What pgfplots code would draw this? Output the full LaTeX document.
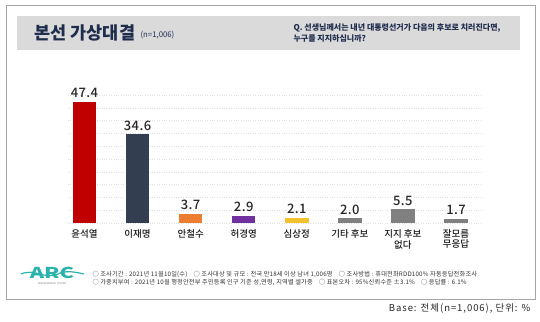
\documentclass[border=0pt]{standalone}
\usepackage{pgfplots}
\pgfplotsset{compat=1.18}
\usepackage{graphicx}
\usepackage{fontspec}
\setmainfont{Noto Sans CJK KR}
\newfontfamily\medfont{Noto Sans CJK KR Medium}
\definecolor{cred}{HTML}{C00000}
\definecolor{cnavy}{HTML}{333F50}
\definecolor{corange}{HTML}{ED7D31}
\definecolor{cpurple}{HTML}{7030A0}
\definecolor{cyellow}{HTML}{F2C12E}
\definecolor{cgray}{HTML}{808080}
\definecolor{titleblue}{HTML}{1F2D4D}
\definecolor{band}{HTML}{DADADA}
\definecolor{logoteal}{HTML}{2AB3AC}
\begin{document}
\begin{tikzpicture}[x=1pt,y=1pt]
\useasboundingbox (0,0) rectangle (540,321);
% frame
\draw[gray!70, line width=0.8pt] (6,321-5) rectangle (535,321-299);
% header band
\fill[band] (17,321-16) rectangle (520,321-50);
\node[anchor=west, text=titleblue, font=\fontsize{17.5}{19}\selectfont\bfseries] at (31,321-33) {본선 가상대결};
\node[anchor=west, text=titleblue, font=\fontsize{7.8}{8}\selectfont] at (137,321-35) {(n=1,006)};
\node[anchor=west, text=titleblue, font=\fontsize{8}{11}\selectfont\bfseries, align=left] at (290,321-33.5) {Q. 선생님께서는 내년 대통령선거가 다음의 후보로 치러진다면,\\누구를 지지하십니까?};
% logo
\node[text=logoteal, font=\fontsize{15}{15}\selectfont\bfseries] at (52,321-273) {\scalebox{1.45}[1]{ARC}};
\draw[logoteal, line width=1.2pt] (21,321-274) .. controls (35,321-268) and (45,321-280) .. (58,321-274) .. controls (66,321-270) and (75,321-272) .. (84,321-274);
\node[text=gray, font=\fontsize{2.5}{3}\selectfont] at (52,321-284) {ARIA RESEARCH CENTER};
% footer text
\node[anchor=west, text=black!80, font=\fontsize{6.2}{6}\selectfont\addfontfeature{LetterSpace=3}] at (89,321-275) {○ 조사기간 : 2021년 11월10일(수)\quad ○ 조사대상 및 규모 : 전국 만18세 이상 남녀 1,006명\quad ○ 조사방법 : 휴대전화RDD100\% 자동응답전화조사};
\node[anchor=west, text=black!80, font=\fontsize{6.2}{6}\selectfont\addfontfeature{LetterSpace=3}] at (89,321-282.5) {○ 가중치부여 : 2021년 10월 행정안전부 주민등록 인구 기준 성,연령, 지역별 셀가중\quad ○ 표본오차 : 95\%신뢰수준 ±3.1\%\quad ○ 응답률 : 6.1\%};
\node[anchor=east, text=black!85, font=\fontsize{9.5}{10}\selectfont\addfontfeature{LetterSpace=10}] at (534,321-309) {Base: 전체(n=1,006), 단위: \%};
\begin{axis}[
  at={(68pt,98pt)}, anchor=south west,
  scale only axis, width=415pt, height=128pt,
  xmin=-0.311, xmax=7.509, ymin=0, ymax=50,
  axis line style={draw=none},
  major tick style={draw=none},
  ytick={0,5,...,50}, yticklabels={},
  ymajorgrids, grid style={dotted, gray!25},
  xtick={0,...,7},
  xticklabels={윤석열,이재명,안철수,허경영,심상정,기타 후보,{지지 후보\\없다},{잘모름\\무응답}},
  xticklabel style={align=center, anchor=north, font=\medfont\fontsize{9.5}{10.3}\selectfont, text=black!90, yshift=1pt},
  ybar, bar width=23.5pt,
  nodes near coords, point meta=explicit symbolic,
  every node near coord/.append style={font=\medfont\fontsize{13}{13}\selectfont\addfontfeature{LetterSpace=3}, text=black!85, yshift=0pt},
  clip=false,
]
\addplot[fill=cred, draw=none, bar shift=0pt] coordinates {(0,47.4) [47.4]};
\addplot[fill=cnavy, draw=none, bar shift=0pt] coordinates {(1,34.6) [34.6]};
\addplot[fill=corange, draw=none, bar shift=0pt] coordinates {(2,3.7) [3.7]};
\addplot[fill=cpurple, draw=none, bar shift=0pt] coordinates {(3,2.9) [2.9]};
\addplot[fill=cyellow, draw=none, bar shift=0pt] coordinates {(4,2.1) [2.1]};
\addplot[fill=cgray, draw=none, bar shift=0pt] coordinates {(5,2.0) [2.0]};
\addplot[fill=cgray, draw=none, bar shift=0pt] coordinates {(6,5.5) [5.5]};
\addplot[fill=cgray, draw=none, bar shift=0pt] coordinates {(7,1.7) [1.7]};
\end{axis}
\end{tikzpicture}
\end{document}
